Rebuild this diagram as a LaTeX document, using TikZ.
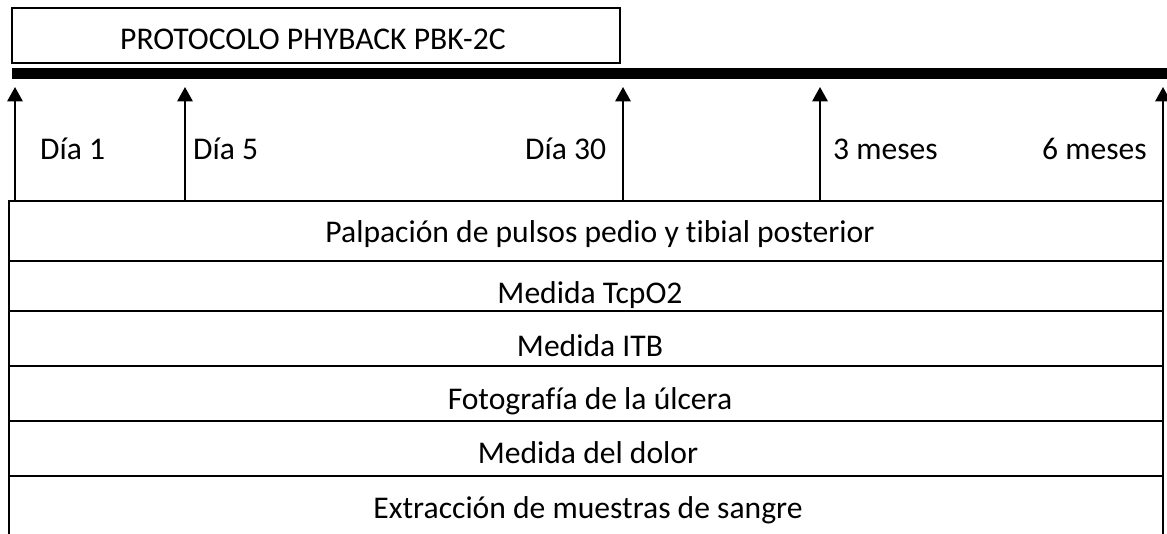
\documentclass[tikz,border=0pt]{standalone}
\usepackage{fontspec}
\setmainfont{Carlito}[Ligatures=NoCommon]
\usetikzlibrary{arrows.meta}
\begin{document}
\begin{tikzpicture}[x=1pt,y=-1pt,
  txt/.style={inner sep=0pt, font=\fontsize{31.6}{36}\selectfont},
  frame/.style={draw=black, line width=1.6pt},
  tick/.style={line width=2pt, -{Triangle[width=15.5pt,length=14.5pt]}},
  bar/.style={line width=11pt}]
\useasboundingbox (0,0) rectangle (1167,534);
% title box
\draw[frame] (12,8) rectangle (620,63);
\node[txt, anchor=base west] (title) at (120,49.5) {PROTOCOLO PHYBACK PBK-2C};
% thick timeline bar
\coordinate (barL) at (12,73.5);
\coordinate (barR) at (1167,73.5);
\draw[bar] (barL) -- (barR);
% arrows
\foreach \n/\x in {a1/15, a2/185, a3/623, a4/820, a5/1163}{
  \coordinate (\n b) at (\x,201);
  \coordinate (\n t) at (\x,87);
  \draw[tick] (\n b) -- (\n t);
}
% time labels
\node[txt, anchor=base west] (d1) at (40,159.5) {Día 1};
\node[txt, anchor=base west] (d5) at (193,159.5) {Día 5};
\node[txt, anchor=base west] (d30) at (525,159.5) {Día 30};
\node[txt, anchor=base west] (m3) at (833,159.5) {3 meses};
\node[txt, anchor=base west] (m6) at (1042,159.5) {6 meses};
% table
\coordinate (tTL) at (9,201);
\coordinate (tTR) at (1163,201);
\coordinate (tBL) at (9,534);
\coordinate (tBR) at (1163,534);
\draw[frame] (tBL) -- (tTL) -- (tTR) -- (tBR);
\foreach \y in {261,311,366,421,476}{
  \draw[frame] (9,\y) -- (1163,\y);
}
\node[txt, anchor=base] (r1) at (600,243) {Palpación de pulsos pedio y tibial posterior};
\node[txt, anchor=base] (r2) at (590,304) {Medida TcpO2};
\node[txt, anchor=base] (r3) at (590,356) {Medida ITB};
\node[txt, anchor=base] (r4) at (590,409) {Fotografía de la úlcera};
\node[txt, anchor=base] (r5) at (588,463) {Medida del dolor};
\node[txt, anchor=base] (r6) at (588,518) {Extracción de muestras de sangre};
\end{tikzpicture}
\end{document}
